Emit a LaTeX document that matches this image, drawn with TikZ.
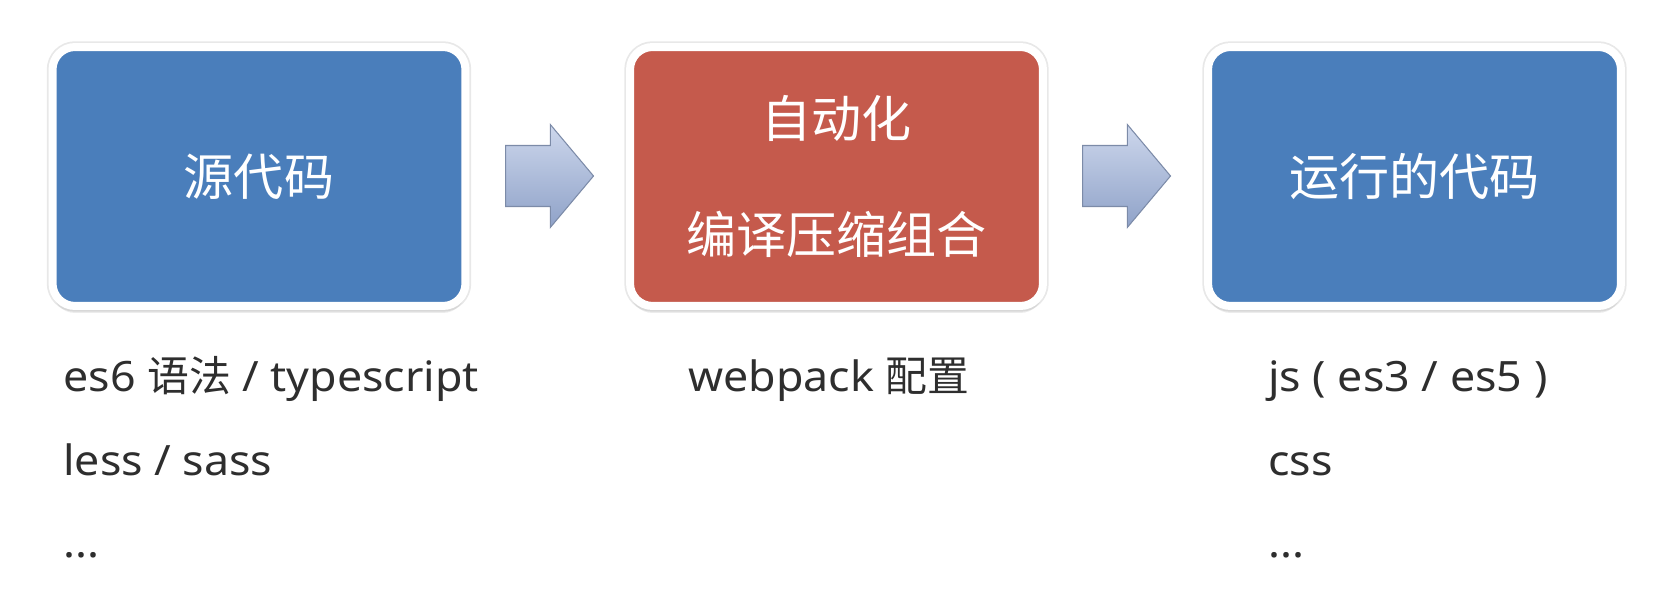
\documentclass[tikz,border=0pt]{standalone}
\usepackage{fontspec}
\setmainfont{Noto Sans}[FakeStretch=1.07]
\newfontfamily\cjk{Noto Sans CJK SC}
\definecolor{stageblue}{HTML}{4A7EBB}
\definecolor{stagered}{HTML}{C55A4C}
\definecolor{arrowlight}{HTML}{CDD7EC}
\definecolor{arrowdark}{HTML}{8FA2C8}
\definecolor{arrowedge}{HTML}{7C8BA8}
\definecolor{notegray}{HTML}{2E2E2E}
\usetikzlibrary{shapes.arrows,shadows,positioning}
\tikzset{
    stage/.style={
        draw=white,
        line width=0.16cm,
        rounded corners=0.45cm,
        minimum width=8.26cm,
        minimum height=5.18cm,
        align=center,
        text=white,
        font=\cjk\fontsize{28.5}{66}\selectfont,
        preaction={draw=black!9, line width=0.23cm},
        drop shadow={shadow xshift=0cm, shadow yshift=-0.14cm, opacity=0.15}
    },
    stageblue/.style={
        stage,
        fill=stageblue
    },
    stagered/.style={
        stage,
        fill=stagered
    },
    blockarrow/.style={
        single arrow,
        anchor=tail,
        draw=arrowedge,
        line width=0.6pt,
        top color=arrowlight,
        bottom color=arrowdark,
        inner xsep=0pt,
        inner ysep=0.6cm,
        single arrow head extend=0.42cm,
        single arrow tip angle=100,
        minimum height=1.76cm,
        minimum width=2.04cm
    },
    note/.style={
        anchor=base west,
        inner sep=0pt,
        text=notegray,
        font=\fontsize{23.8}{28}\selectfont
    }
}

\begin{document}
\begin{tikzpicture}[x=0.02cm,y=-0.02cm]
    \useasboundingbox (0,0) rectangle (1656,604);

    \node[stageblue] (source) at (259,176.5) {源代码};
    \node[stagered] (build) at (836.5,176.5) {自动化\\编译压缩组合};
    \node[stageblue] (output) at (1414.5,176.5) {运行的代码};

    \node[blockarrow] (tobuild) at (505,176) {};
    \node[blockarrow] (tooutput) at (1082,176) {};

    \node[note] (sourcea) at (63,392) {es6 {\cjk 语法} / typescript};
    \node[note] (sourceb) at (63,475) {less / sass};
    \node[note] (sourcec) at (63,557) {...};
    \node[note] (builda) at (688,392) {webpack {\cjk 配置}};
    \node[note] (outputa) at (1268,392) {js ( es3 / es5 )};
    \node[note] (outputb) at (1268,475) {css};
    \node[note] (outputc) at (1268,557) {...};
\end{tikzpicture}
\end{document}
